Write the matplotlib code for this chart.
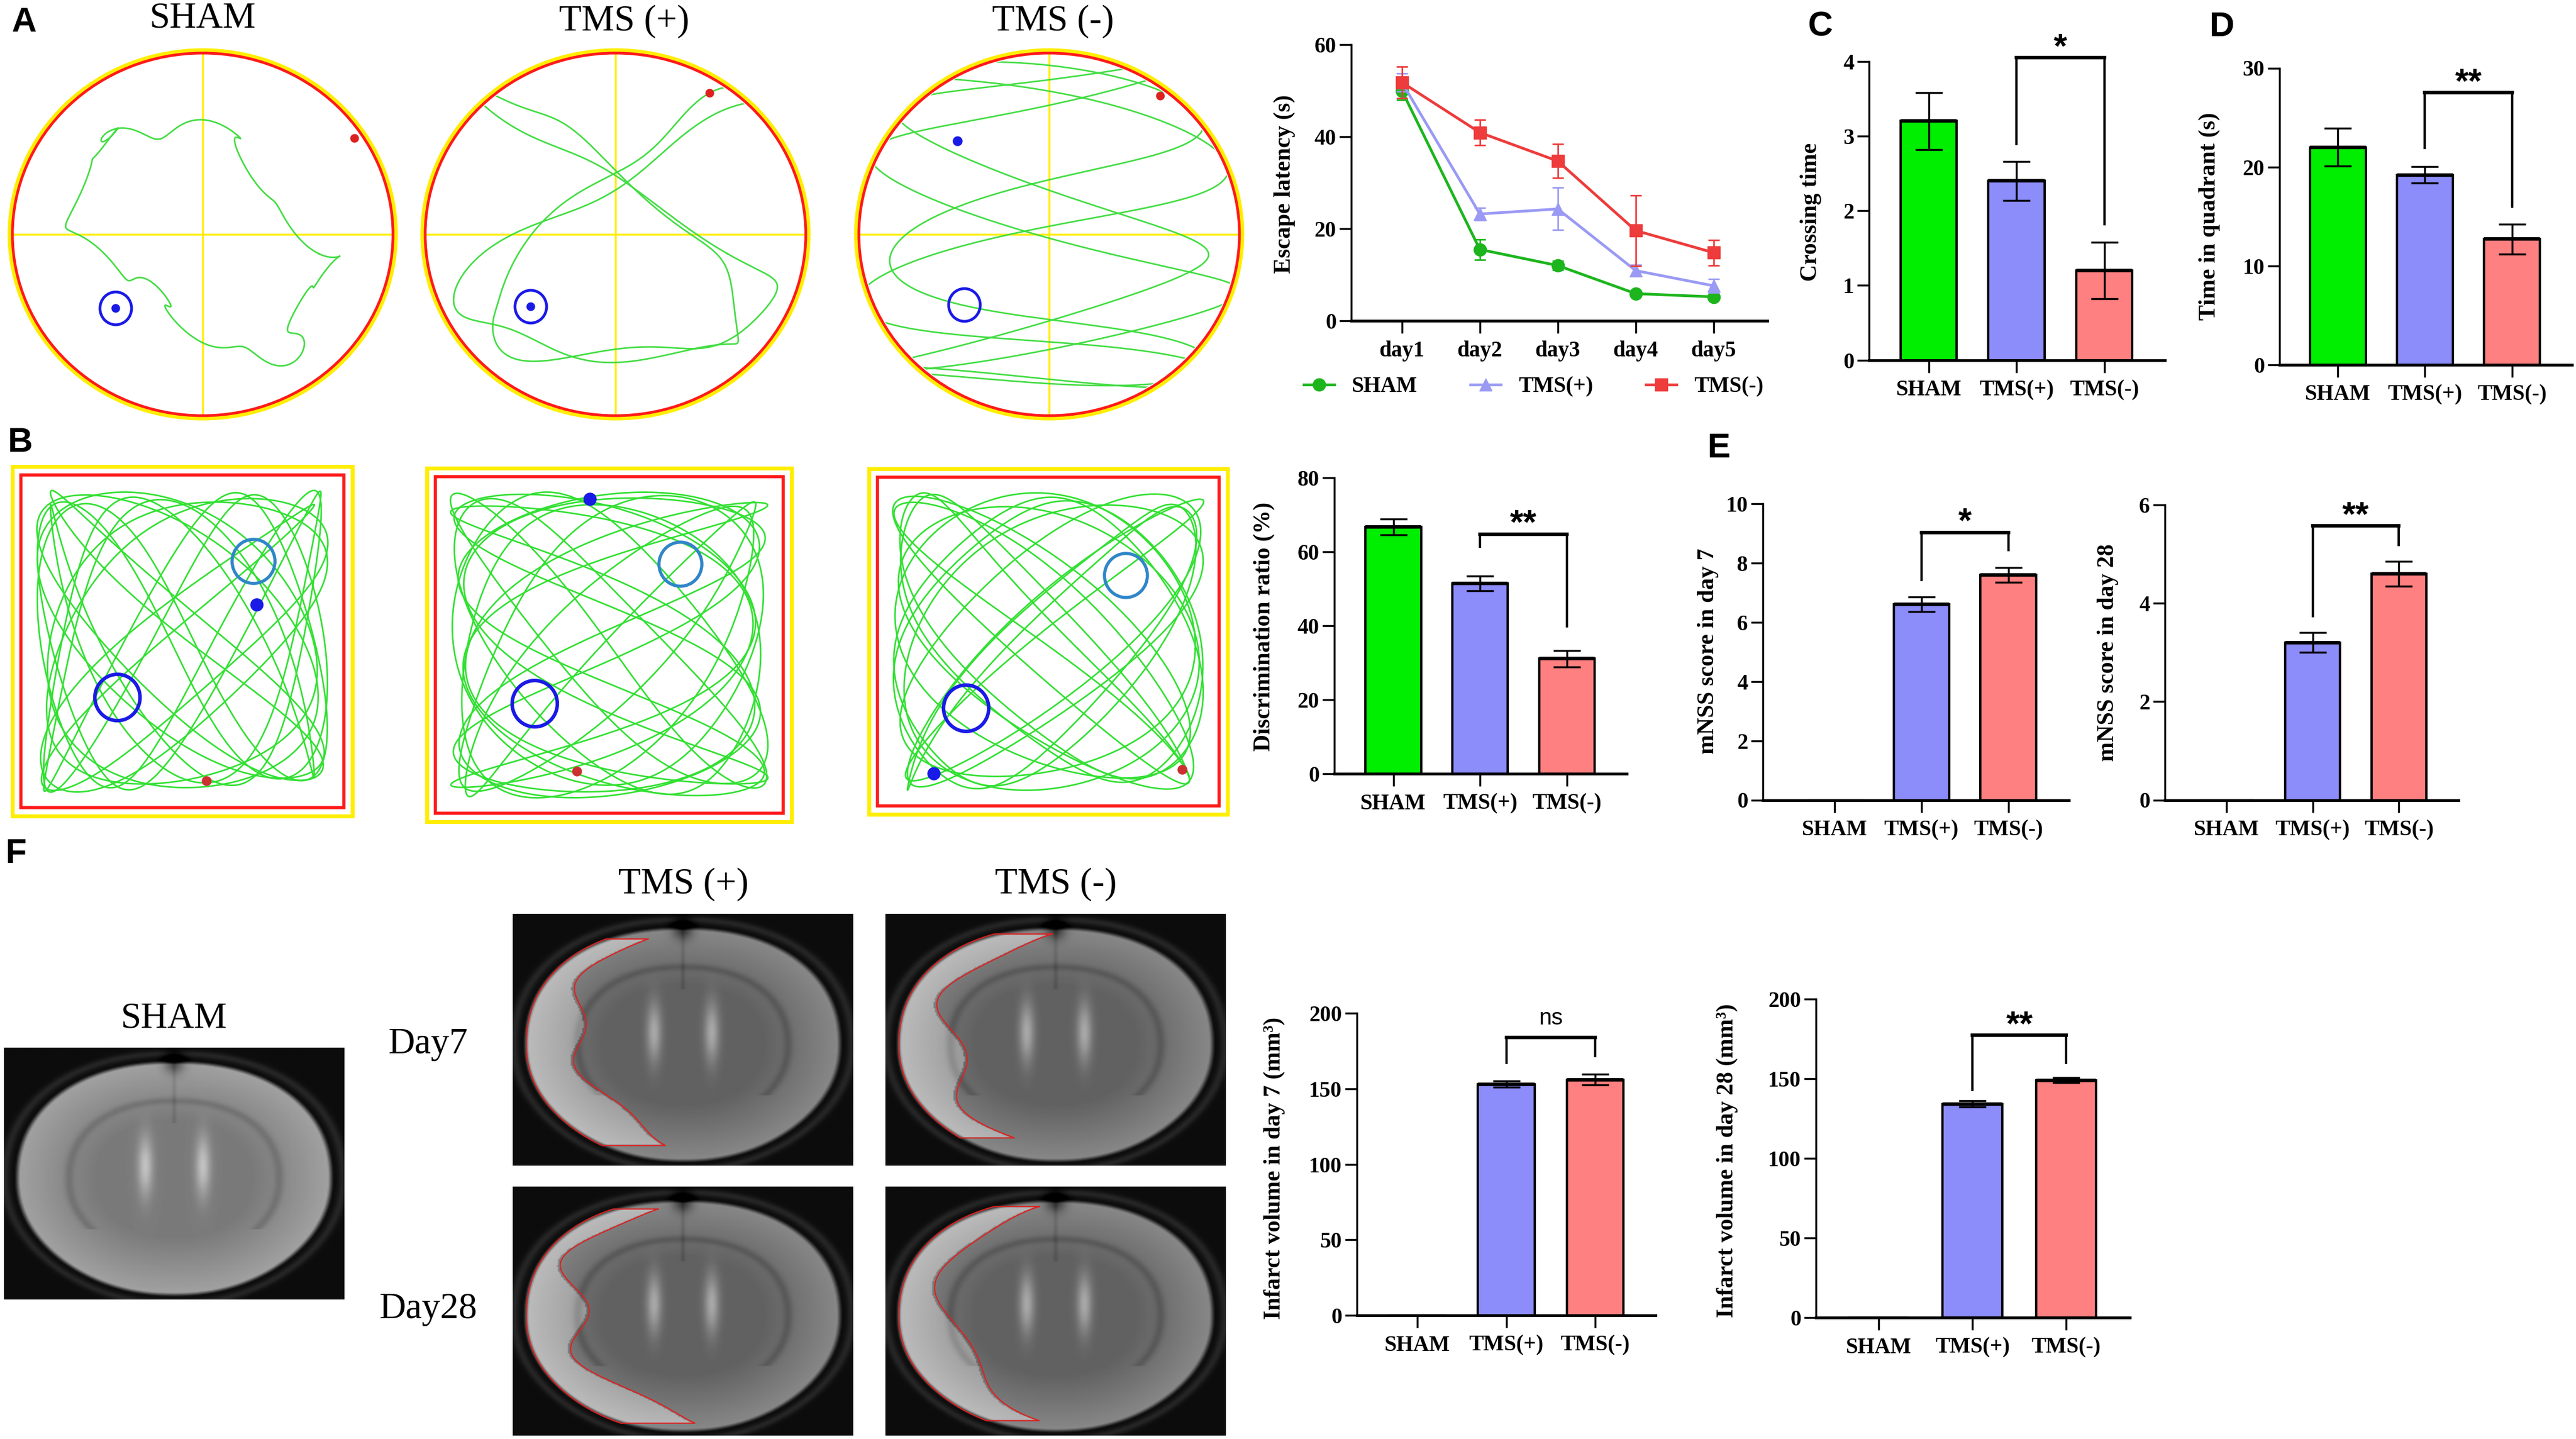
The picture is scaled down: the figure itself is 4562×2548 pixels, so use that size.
import numpy as np
import matplotlib
matplotlib.use("Agg")
import matplotlib.pyplot as plt
from matplotlib.patches import Ellipse, Rectangle
from matplotlib.lines import Line2D

# ---------------- data ----------------
groups = ["SHAM", "TMS(+)", "TMS(-)"]
days = ["day1", "day2", "day3", "day4", "day5"]

latency_sham = [50.0, 15.5, 12.0, 5.9, 5.2]
latency_sham_err = [2.0, 2.2, 1.0, 0.5, 0.5]
latency_tmsp = [51.8, 23.2, 24.3, 10.9, 7.6]
latency_tmsp_err = [2.0, 1.3, 4.6, 1.2, 1.5]
latency_tmsn = [51.8, 40.9, 34.7, 19.6, 14.8]
latency_tmsn_err = [3.4, 2.8, 3.7, 7.7, 2.8]

crossing = [3.2, 2.4, 1.2]
crossing_err = [0.38, 0.26, 0.38]
quadrant = [22.0, 19.2, 12.7]
quadrant_err = [1.9, 0.85, 1.5]
discrimination = [66.7, 51.5, 31.1]
discrimination_err = [2.1, 2.0, 2.2]
mnss_d7 = [0.0, 6.6, 7.6]
mnss_d7_err = [0.0, 0.25, 0.25]
mnss_d28 = [0.0, 3.2, 4.6]
mnss_d28_err = [0.0, 0.2, 0.25]
infarct_d7 = [0.0, 153.0, 156.0]
infarct_d7_err = [0.0, 2.0, 3.5]
infarct_d28 = [0.0, 134.0, 149.0]
infarct_d28_err = [0.0, 2.0, 1.5]

# significance brackets: (top, left leg end, right leg end, text)
sig_crossing = (4.05, 2.89, 1.82, "*")
sig_quadrant = (27.5, 21.9, 16.0, "**")
sig_discrim = (64.8, 61.3, 39.8, "**")
sig_mnss_d7 = (9.03, 7.42, 8.44, "*")
sig_mnss_d28 = (5.57, 3.74, 5.19, "**")
sig_inf_d7 = (183.75, 167.0, 171.75, "ns")
sig_inf_d28 = (177.25, 142.9, 159.7, "**")

# ---------------- style ----------------
W, H = 4562, 2548
SERIF = "Liberation Serif"
SANS = "Liberation Sans"
plt.rcParams["font.family"] = [SERIF, "DejaVu Serif"]

GREEN_L, BLUE_L, RED_L = "#1DB51D", "#9A9AF5", "#EE3B3B"
BAR_COLORS = ["#00EE00", "#8C8CFA", "#FF8080"]

fig = plt.figure(figsize=(W / 100, H / 100), dpi=100)
bg = fig.add_axes([0, 0, 1, 1], zorder=0)
bg.set_xlim(0, W)
bg.set_ylim(H, 0)
bg.axis("off")

TICK_FS = 28
LABEL_FS = 30


def px_axes(left, right, y0px, yrefpx, yref_val, ytop):
    ppu = (y0px - yrefpx) / yref_val
    top_px = y0px - ytop * ppu
    ax = fig.add_axes([left / W, 1 - y0px / H, (right - left) / W, (y0px - top_px) / H], zorder=2)
    ax.set_ylim(0, ytop)
    ax.patch.set_alpha(0)
    return ax, ppu, top_px


def style_axes(ax, ymax_tick, yticks):
    for s in ["top", "right"]:
        ax.spines[s].set_visible(False)
    ax.spines["left"].set_bounds(0, ymax_tick)
    ax.spines["left"].set_linewidth(2.5)
    ax.spines["bottom"].set_linewidth(3.5)
    ax.set_yticks(yticks)
    ax.tick_params(axis="x", length=16, width=2.5, pad=9, direction="out")
    ax.tick_params(axis="y", length=15, width=2.5, pad=4, direction="out")
    for lab in ax.get_xticklabels() + ax.get_yticklabels():
        lab.set_fontfamily(SERIF)
        lab.set_fontweight("bold")
        lab.set_fontsize(TICK_FS)


def set_ylabel_px(ax, text, xpx, ypx, left, right, y0px, top_px):
    ax.set_ylabel(text, fontsize=LABEL_FS, fontweight="bold", family=SERIF)
    ax.yaxis.set_label_coords((xpx - left) / (right - left), (y0px - ypx) / (y0px - top_px))


def bar_panel(box, yref_val, ytop, xlim, values, errors, yticks, ylabel, lab_px, sig):
    left, right, y0px, yrefpx = box
    ax, ppu, top_px = px_axes(left, right, y0px, yrefpx, yref_val, ytop)
    ax.set_xlim(*xlim)
    x = np.arange(len(groups))
    ax.bar(x, values, width=0.64, color=BAR_COLORS, edgecolor="black", linewidth=3, zorder=2)
    for xi, v, e in zip(x, values, errors):
        if v > 0:
            ax.plot([xi - 0.32, xi + 0.32], [v, v], color="black", lw=4.5, zorder=2.5,
                    solid_capstyle="butt")
            ax.errorbar(xi, v, yerr=e, fmt="none", ecolor="black", elinewidth=2.5,
                        capsize=17, capthick=2.5, zorder=3)
    ax.set_xticks(x, groups)
    style_axes(ax, yticks[-1], yticks)
    set_ylabel_px(ax, ylabel, lab_px[0], lab_px[1], left, right, y0px, top_px)
    top, lleg, rleg, txt = sig
    ax.plot([1, 1, 2, 2], [lleg, top, top, rleg], color="black", lw=3, clip_on=False,
            solid_joinstyle="miter", zorder=4)
    ax.plot([1, 2], [top, top], color="black", lw=4.5, clip_on=False, zorder=4,
            solid_capstyle="projecting")
    if txt == "ns":
        ax.text(1.5, top + 23 / ppu, txt, ha="center", va="baseline", family=SANS,
                fontsize=29, clip_on=False)
    else:
        ax.text(1.5, top + 1 / ppu, txt, ha="center", va="baseline", family=SANS,
                fontsize=44, fontweight="bold", clip_on=False)
    return ax


# ---------------- panel letters & titles ----------------
for letter, (lx, ly) in {"A": (43, 40), "B": (36, 785), "C": (3224, 48), "D": (3935, 48),
                         "E": (3044, 795), "F": (29, 1513)}.items():
    bg.text(lx, ly, letter, family=SANS, fontweight="bold", fontsize=44, ha="center", va="center")

for t, (tx, ty) in {"SHAM": (359, 33), "TMS (+)": (1105, 38), "TMS (-)": (1865, 38)}.items():
    bg.text(tx, ty, t, fontsize=47, ha="center", va="center", family=SERIF)

# ---------------- A: water maze arenas (schematic illustration) ----------------
arenas = [(359, 415), (1090, 415), (1858, 415)]
RX, RY = 337, 321
track_params = [(1, 1, 1.1, 0.62, 1.0), (3, 2, 0.8, 0.74, 1.0), (7, 2, 0.3, 0.88, 1.0)]
a_targets = [(205, 546), (940, 543), (1708, 540)]
a_target_dot = [True, True, False]
a_red = [(628, 245), (1257, 165), (2055, 170)]
for (cx, cy), (fa, fb, ph, amp, turns), (tx, ty), dot, (rx_, ry_) in zip(
        arenas, track_params, a_targets, a_target_dot, a_red):
    outer = Ellipse((cx, cy), 2 * RX + 10, 2 * RY + 10, fill=False, ec="#FFEE00", lw=5, zorder=2)
    inner = Ellipse((cx, cy), 2 * RX, 2 * RY, fill=False, ec="#FF1A1A", lw=3.5, zorder=3)
    clip = Ellipse((cx, cy), 2 * RX - 8, 2 * RY - 8, transform=bg.transData, fill=False, lw=0)
    bg.add_patch(clip)
    bg.plot([cx - RX, cx + RX], [cy, cy], color="#FFEE00", lw=2.5, zorder=2)
    bg.plot([cx, cx], [cy - RY - 4, cy + RY + 4], color="#FFEE00", lw=2.5, zorder=2)
    t = np.linspace(0, 2 * np.pi * turns, 3000)
    xs = (cx + amp * RX * np.sin(fa * t + ph) + 0.09 * RX * np.sin(5 * t + 0.7)
          + 0.04 * RX * np.sin(11 * t))
    ys = (cy + amp * RY * np.sin(fb * t) + 0.07 * RY * np.cos(4 * t + 0.3)
          + 0.04 * RY * np.cos(13 * t))
    ln, = bg.plot(xs, ys, color="#44DD44", lw=2, zorder=2.5)
    ln.set_clip_path(clip)
    bg.add_patch(outer)
    bg.add_patch(inner)
    bg.add_patch(Ellipse((tx, ty), 56, 58, fill=False, ec="#1A1AE6", lw=3.5, zorder=4))
    if dot:
        bg.add_patch(Ellipse((tx, ty), 14, 14, color="#1A1AE6", zorder=4))
    bg.add_patch(Ellipse((rx_, ry_), 14, 14, color="#DD2020", zorder=4))
bg.add_patch(Ellipse((1696, 250), 16, 16, color="#1A1AE6", zorder=4))

# ---------------- B: object recognition boxes (schematic illustration) ----------------
boxes = [(22, 826, 624, 1445), (756, 829, 1402, 1455), (1539, 830, 2174, 1442)]
light_targets = [(449, 994), (1205, 999), (1994, 1019)]
blue_targets = [(208, 1235), (947, 1246), (1711, 1254)]
blue_dots = [(455, 1071), (1045, 884), (1654, 1370)]
red_dots = [(366, 1383), (1022, 1366), (2094, 1363)]
box_tracks = [[(7, 6, 0.4), (5, 9, 1.3)], [(6, 7, 0.9), (9, 5, 2.0)], [(5, 6, 0.2), (8, 7, 1.7)]]
for (x0, y0, x1, y1), lt, bt, bd, rd, tr in zip(boxes, light_targets, blue_targets,
                                                  blue_dots, red_dots, box_tracks):
    bg.add_patch(Rectangle((x0, y0), x1 - x0, y1 - y0, fill=False, ec="#FFEE00", lw=5, zorder=2))
    bg.add_patch(Rectangle((x0 + 15, y0 + 15), x1 - x0 - 30, y1 - y0 - 30, fill=False,
                           ec="#FF1A1A", lw=4, zorder=2))
    cx, cy = (x0 + x1) / 2, (y0 + y1) / 2
    hx, hy = (x1 - x0) / 2 - 55, (y1 - y0) / 2 - 55
    t = np.linspace(0, 2 * np.pi, 4000)
    for fa, fb, ph in tr:
        xs = cx + hx * np.sin(fa * t + ph) + 0.05 * hx * np.sin(17 * t)
        ys = cy + hy * np.sin(fb * t) + 0.05 * hy * np.cos(13 * t)
        bg.plot(xs, ys, color="#33E033", lw=2, zorder=2.5)
    bg.add_patch(Ellipse(lt, 76, 78, fill=False, ec="#2F86C8", lw=4, zorder=4))
    bg.add_patch(Ellipse(bt, 80, 82, fill=False, ec="#1A1AE6", lw=4.5, zorder=4))
    bg.add_patch(Ellipse(bd, 22, 22, color="#1A1AE6", zorder=4))
    bg.add_patch(Ellipse(rd, 16, 16, color="#CC3030", zorder=4))


# ---------------- F: MRI slices (schematic illustration) ----------------
P_SHAPE = 2.2


def brain_uv(xx, yy):
    v = (yy - 0.52) / 0.47
    narrow = 1 - 0.12 * np.clip(v, 0, 1) ** 2
    u = (xx - 0.5) / (0.47 * narrow)
    return u, v, narrow


def left_edge(ys):
    v = (ys - 0.52) / 0.47
    narrow = 1 - 0.12 * np.clip(v, 0, 1) ** 2
    return 0.5 - 0.47 * narrow * np.clip(1 - np.abs(v) ** P_SHAPE, 0, 1) ** (1 / P_SHAPE)


def mri_image(lesion=None, n=240, sham=False):
    yy, xx = np.mgrid[0:n, 0:n] / (n - 1)
    u, v, _ = brain_uv(xx, yy)
    r = (np.abs(u) ** P_SHAPE + np.abs(v) ** P_SHAPE) ** (1 / P_SHAPE)
    inside = np.clip((1 - r) * 30, 0, 1)
    base = 0.48 if sham else 0.38
    tissue = base + 0.16 * np.clip((r - 0.5) / 0.5, 0, 1)
    tissue -= 0.08 * np.exp(-((r - 0.66) / 0.03) ** 2) * (yy < 0.72)
    vent = np.exp(-((np.abs(xx - 0.5) - 0.085) / 0.022) ** 2) * np.exp(-((yy - 0.47) / 0.12) ** 2)
    tissue += 0.28 * vent
    tissue -= 0.06 * np.exp(-((xx - 0.5) / 0.006) ** 2) * (yy < 0.3)
    notch = np.exp(-((xx - 0.5) / 0.03) ** 2) * np.exp(-((yy - 0.06) / 0.04) ** 2)
    img = 0.05 + 0.10 * np.exp(-((r - 1.06) / 0.03) ** 2)
    img = img * (1 - inside) + tissue * inside
    img -= 0.3 * notch
    if lesion is not None:
        ytop, ybot, w0, w1, wa, wf = lesion
        xl = left_edge(yy)
        w = w0 + w1 * yy + wa * np.sin(wf * yy)
        band = (xx < xl + w) & (yy > ytop) & (yy < ybot)
        img = img + 0.20 * band * inside
    return np.clip(img, 0, 1)


def lesion_outline(lesion, x0, y0, x1, y1):
    ytop, ybot, w0, w1, wa, wf = lesion
    ys = np.linspace(ytop, ybot, 200)
    xl = left_edge(ys) + 0.01
    xr = xl + w0 + w1 * ys + wa * np.sin(wf * ys)
    fx = np.concatenate([xr, xl[::-1], xr[:1]])
    fy = np.concatenate([ys, ys[::-1], ys[:1]])
    return x0 + fx * (x1 - x0), y0 + fy * (y1 - y0)


mri_boxes = {
    "sham": (7, 1855, 610, 2301, None),
    "p7": (908, 1618, 1511, 2064, (0.10, 0.92, 0.08, 0.14, 0.03, 18)),
    "n7": (1568, 1618, 2171, 2064, (0.08, 0.89, 0.12, 0.05, 0.05, 14)),
    "p28": (908, 2101, 1511, 2542, (0.09, 0.95, 0.07, 0.13, 0.05, 16)),
    "n28": (1568, 2101, 2171, 2542, (0.08, 0.94, 0.09, 0.11, 0.04, 12)),
}
for key, (x0, y0, x1, y1, les) in mri_boxes.items():
    img = mri_image(les, sham=(key == "sham"))
    bg.imshow(img, cmap="gray", vmin=0, vmax=1, extent=(x0, x1, y1, y0), aspect="auto",
              interpolation="bilinear", zorder=1)
    if les is not None:
        X, Y = lesion_outline(les, x0, y0, x1, y1)
        bg.plot(X, Y, color="#E02020", lw=1.5, zorder=2)
bg.set_xlim(0, W)
bg.set_ylim(H, 0)

for t, (tx, ty) in {"SHAM": (308, 1804), "TMS (+)": (1210, 1566), "TMS (-)": (1870, 1566),
                    "Day7": (758, 1849), "Day28": (758, 2318)}.items():
    bg.text(tx, ty, t, fontsize=47, ha="center", va="center", family=SERIF)

# ---------------- A (right): escape latency ----------------
L_LEFT, L_RIGHT, L_Y0, L_Y60 = 2393, 3130, 568, 79
axl, ppu_l, top_l = px_axes(L_LEFT, L_RIGHT, L_Y0, L_Y60, 60, 60)
xd = np.arange(1, len(days) + 1)
axl.set_xlim(0.35, 5.69)
series = [(latency_sham, latency_sham_err, GREEN_L, "o", "SHAM"),
          (latency_tmsp, latency_tmsp_err, BLUE_L, "^", "TMS(+)"),
          (latency_tmsn, latency_tmsn_err, RED_L, "s", "TMS(-)")]
handles = []
for i, (vals, errs, col, mk, name) in enumerate(series):
    axl.errorbar(xd, vals, yerr=errs, fmt="none", ecolor=col, elinewidth=2, capsize=7,
                 capthick=2, zorder=3 + i, clip_on=False)
    axl.plot(xd, vals, color=col, marker=mk, ms=16, lw=3.5, zorder=3 + i, clip_on=False)
    handles.append(Line2D([], [], color=col, marker=mk, ms=16, lw=3.5, label=name))
axl.set_xticks(xd, days)
style_axes(axl, 60, [0, 20, 40, 60])
set_ylabel_px(axl, "Escape latency (s)", 2294, 326, L_LEFT, L_RIGHT, L_Y0, top_l)
fig.legend(handles=handles, loc="center", bbox_to_anchor=(2716 / W, 1 - 685 / H), ncol=3,
           frameon=False, prop={"family": SERIF, "weight": "bold", "size": 28},
           handlelength=1.4, handletextpad=0.8, columnspacing=2.4)

# ---------------- C, D ----------------
bar_panel((3310, 3834, 637.6, 108.6), 4, 4.6, (-0.68, 2.69), crossing, crossing_err,
          [0, 1, 2, 3, 4], "Crossing time", (3226, 375), sig_crossing)
bar_panel((4037, 4555, 645.7, 120.5), 30, 33, (-0.67, 2.69), quadrant, quadrant_err,
          [0, 10, 20, 30], "Time in quadrant (s)", (3932, 383), sig_quadrant)

# ---------------- B bar, E ----------------
bar_panel((2363, 2881, 1370, 846), 80, 84, (-0.68, 2.69), discrimination, discrimination_err,
          [0, 20, 40, 60, 80], "Discrimination ratio (%)", (2258, 1109), sig_discrim)
bar_panel((3122, 3664, 1416.5, 891.7), 10, 10.6, (-0.83, 2.70), mnss_d7, mnss_d7_err,
          [0, 2, 4, 6, 8, 10], "mNSS score in day 7", (3044, 1153), sig_mnss_d7)
bar_panel((3834, 4354, 1416.5, 894), 6, 6.4, (-0.71, 2.69), mnss_d28, mnss_d28_err,
          [0, 2, 4, 6], "mNSS score in day 28", (3752, 1155), sig_mnss_d28)

# ---------------- F bars ----------------
bar_panel((2403, 2932, 2329, 1794), 200, 215, (-0.68, 2.68), infarct_d7, infarct_d7_err,
          [0, 50, 100, 150, 200], "Infarct volume in day 7 (mm³)", (2276, 2068), sig_inf_d7)
bar_panel((3216, 3772, 2332.8, 1768.7), 200, 210, (-0.67, 2.68), infarct_d28, infarct_d28_err,
          [0, 50, 100, 150, 200], "Infarct volume in day 28 (mm³)", (3078, 2055), sig_inf_d28)

fig.savefig("out.png", dpi=100)
